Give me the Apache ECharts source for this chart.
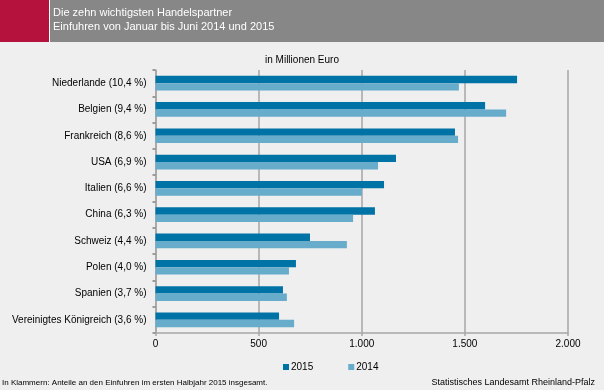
<!DOCTYPE html>
<html>
<head>
<meta charset="utf-8">
<script src="https://cdn.jsdelivr.net/npm/echarts@6/dist/echarts.min.js"></script>
<style>
html,body{margin:0;padding:0;background:#eeefee;}
#chart{width:604px;height:390px;}
</style>
</head>
<body>
<div id="chart"></div>
<script>
const categories = ["Niederlande (10,4 %)","Belgien (9,4 %)","Frankreich (8,6 %)","USA (6,9 %)","Italien (6,6 %)","China (6,3 %)","Schweiz (4,4 %)","Polen (4,0 %)","Spanien (3,7 %)","Vereinigtes Königreich (3,6 %)"];
const values2015 = [1753,1598,1452,1166,1108,1064,749,681,618,599];
const values2014 = [1471,1700,1467,1079,1001,958,928,647,637,672];
const xTicks = [0,500,1000,1500,2000];
const titleLines = ["Die zehn wichtigsten Handelspartner","Einfuhren von Januar bis Juni 2014 und 2015"];
const unitLabel = "in Millionen Euro";
const footnote = "In Klammern: Anteile an den Einfuhren im ersten Halbjahr 2015 insgesamt.";
const source = "Statistisches Landesamt Rheinland-Pfalz";

const font = "Liberation Sans, Arial, sans-serif";
const chart = echarts.init(document.getElementById('chart'));
chart.setOption({
  backgroundColor: '#eeefee',
  animation: false,
  textStyle: {fontFamily: font},
  graphic: [
    {type:'rect', shape:{x:0,y:0,width:604,height:42}, style:{fill:'#878788'}},
    {type:'rect', shape:{x:0,y:0,width:49,height:42}, style:{fill:'#b5123e'}},
    {type:'rect', shape:{x:49,y:0,width:1,height:42}, style:{fill:'#ffffff'}},
    {type:'text', left:53, top:7, style:{text:titleLines[0], fill:'#ffffff', font:'11px ' + font}},
    {type:'text', left:53, top:21, style:{text:titleLines[1], fill:'#ffffff', font:'11px ' + font}},
    {type:'text', x:302, y:60, style:{text:unitLabel, fill:'#000000', font:'10px ' + font, align:'center', verticalAlign:'middle'}},
    {type:'text', x:2, y:383, style:{text:footnote, fill:'#000000', font:'8px ' + font, verticalAlign:'middle'}},
    {type:'text', x:595, y:383, style:{text:source, fill:'#000000', font:'9px ' + font, align:'right', verticalAlign:'middle'}}
  ],
  legend: {
    data: ['2015','2014'],
    top: 357, left: 278,
    itemWidth: 6, itemHeight: 6, itemGap: 35,
    icon: 'rect',
    textStyle: {fontSize: 10, color:'#000', fontFamily: font, padding:[0,0,0,-3]}
  },
  grid: {left:155.5, right:36, top:70, bottom:57, containLabel:false},
  xAxis: {
    type:'value', min:0, max:2000, interval:500,
    axisLine:{show:true, lineStyle:{color:'#a6a6a6', width:1.5}},
    axisTick:{show:true, length:3, lineStyle:{color:'#a6a6a6', width:1.5}},
    splitLine:{show:true, lineStyle:{color:'#a6a6a6', width:1.5}},
    axisLabel:{color:'#000', fontSize:10, margin:6, fontFamily:font,
      formatter: v => xTicks.includes(v) ? v.toLocaleString('de-DE') : ''}
  },
  yAxis: {
    type:'category', data: categories, inverse: true,
    axisLine:{show:true, lineStyle:{color:'#a6a6a6', width:1.5}},
    axisTick:{show:true, length:3, lineStyle:{color:'#808080', width:1.5}},
    axisLabel:{color:'#000', fontSize:10, margin:9, fontFamily:font}
  },
  series: [
    {name:'2015', type:'bar', data: values2015, itemStyle:{color:'#0073a6'}, barGap:'0%', barCategoryGap:'44%'},
    {name:'2014', type:'bar', data: values2014, itemStyle:{color:'#67accb'}, barGap:'0%', barCategoryGap:'44%'}
  ]
});
</script>
</body>
</html>
